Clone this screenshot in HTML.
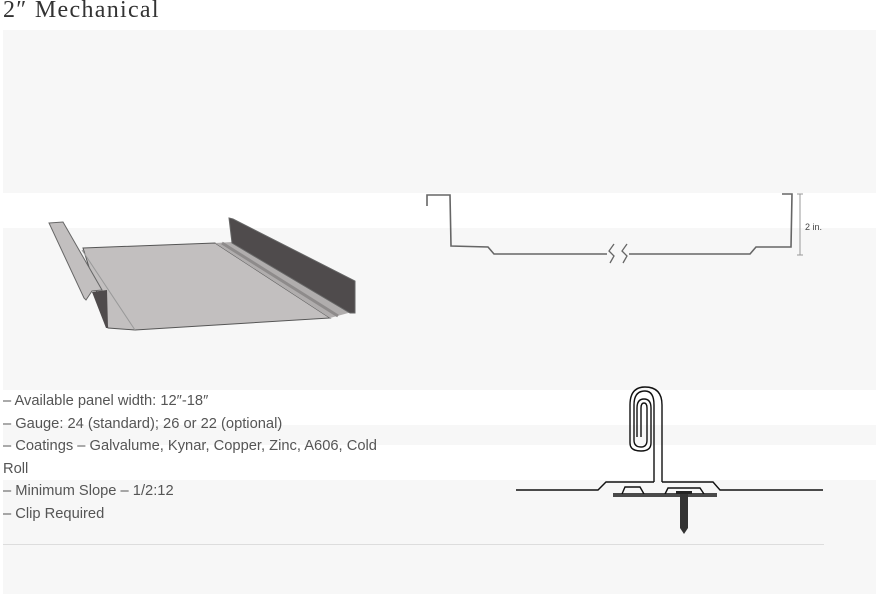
<!DOCTYPE html>
<html><head><meta charset="utf-8"><style>
body{margin:0;width:876px;height:594px;background:#fff;position:relative;overflow:hidden;font-family:"Liberation Sans",sans-serif}
.t{position:absolute;left:3px;top:-3px;font-family:"Liberation Serif",serif;font-size:24px;color:#333;letter-spacing:1.3px}
.g{position:absolute;background:#f7f7f7;left:3px;width:873px}
.w{position:absolute;background:#fff;left:3px;width:873px}
.tx{position:absolute;left:3px;font-size:14.7px;color:#555;line-height:22.5px;top:390px;width:385px}
</style></head><body>
<div class="t">2″ Mechanical</div>
<div class="g" style="top:30px;height:564px"></div>
<div class="w" style="top:193px;height:35px"></div>
<div class="w" style="top:390px;height:35px"></div>
<div class="w" style="top:445px;height:35px"></div>
<div style="position:absolute;left:3px;top:544px;width:821px;height:1px;background:#ddd"></div>
<div class="tx">– Available panel width: 12″-18″<br>– Gauge: 24 (standard); 26 or 22 (optional)<br>– Coatings – Galvalume, Kynar, Copper, Zinc, A606, Cold Roll<br>– Minimum Slope – 1/2:12<br>– Clip Required</div>
<svg width="876" height="594" style="position:absolute;left:0;top:0">
<!-- 3D panel -->
<polygon points="83,248 215,243 330,318 135,330 108,328" fill="#c2bfbf" stroke="#555" stroke-width="1"/>
<polygon points="215,243 232,242 352,312 330,318" fill="#b0adad"/>
<line x1="222" y1="243" x2="338" y2="316" stroke="#8e8b8b" stroke-width="3"/>
<polygon points="229,218 233,219 355,281 355,313 350,313 232,243" fill="#4f4b4c" stroke="#666" stroke-width="1"/>
<polygon points="92,292 107,290 108,328 106,328" fill="#4f4b4c"/>
<polygon points="49,223 63,222 102,290 92,291 86,300 84,298" fill="#c2bfbf" stroke="#666" stroke-width="1"/>
<line x1="82" y1="250" x2="135" y2="330" stroke="#999" stroke-width="1"/>
<!-- profile -->
<polyline points="427,206 427,195 450,195 451,246 488,247 494,254 607,254" fill="none" stroke="#666" stroke-width="1.6"/>
<polyline points="629,254 750,254 756,247 791,247 792,194 782,194" fill="none" stroke="#666" stroke-width="1.6"/>
<path d="M614,244 l-5,7 l5,5 l-4,7 M627,244 l-5,7 l5,5 l-4,7" fill="none" stroke="#666" stroke-width="1.3"/>
<line x1="800" y1="194" x2="800" y2="255" stroke="#999"/>
<line x1="797" y1="194" x2="803" y2="194" stroke="#999"/>
<line x1="797" y1="255" x2="803" y2="255" stroke="#999"/>
<text x="805" y="230" font-size="9" fill="#444" font-family="Liberation Sans,sans-serif">2 in.</text>
<!-- seam -->
<g fill="none" stroke="#111" stroke-width="1.4">
<polyline points="516,490 598,490 606,482 654,482"/>
<polyline points="662,482 713,482 720,490 823,490"/>
<line x1="613" y1="494" x2="717" y2="494"/>
<line x1="613" y1="496" x2="717" y2="496"/>
<path d="M654,482 L654,470 L654,405 Q654,391 645,391 Q634,391 634,405 L634,440 Q634,447 641,447 Q647,447 647,440 L647,408 Q647,403 644,403 Q641,403 641,408 L641,437"/>
<path d="M662,482 L662,405 Q662,387 645,387 Q630,387 630,405 L630,443 Q630,451 641,451 Q651,451 651,443 L651,408 Q651,399 644,399 Q637,399 637,408 L637,437"/>
<polyline points="622,494 625,487 640,487 644,494"/>
<polyline points="665,494 668,488 700,488 704,494"/>
</g>
<rect x="680" y="492" width="8" height="36" fill="#333"/>
<polygon points="680,528 688,528 684,534" fill="#333"/>
<rect x="676" y="491" width="16" height="3" fill="#222"/>
</svg>
</body></html>
